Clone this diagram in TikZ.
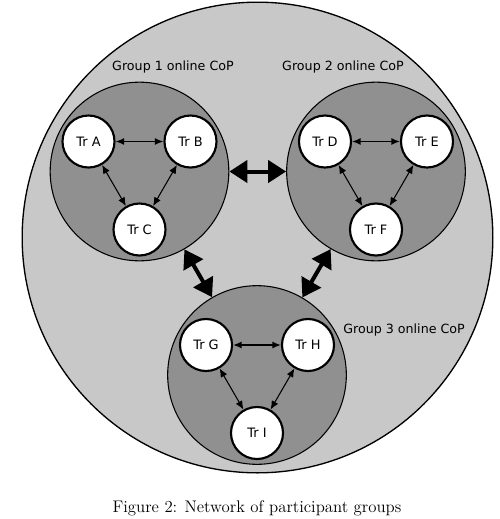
\documentclass[tikz,border=0pt]{standalone}
\usepackage{fontspec}
\usepackage{tikz}
\usetikzlibrary{positioning,arrows.meta}
\newfontfamily\grpfont{DejaVu Sans}
\definecolor{outergray}{RGB}{200,200,200}
\definecolor{groupgray}{RGB}{144,144,144}

\begin{document}
\begin{tikzpicture}[x=0.75pt, y=-0.75pt, on grid,
  network/.style = {draw, circle, fill=outergray, line width=1pt, minimum size=353pt},
  group/.style = {draw, circle, fill=groupgray, line width=0.8pt, minimum size=134pt},
  main/.style = {draw, circle, fill=white, line width=1.6pt, minimum size=39pt, inner sep=0pt, font=\grpfont\fontsize{9.7}{11}\selectfont},
  link/.style = {{Latex[length=6.5pt,width=5.5pt]}-{Latex[length=6.5pt,width=5.5pt]}, line width=0.8pt},
  bond/.style = {{Triangle[length=13.5pt,width=16.5pt]}-{Triangle[length=13.5pt,width=16.5pt]}, line width=3pt},
  glabel/.style = {inner sep=0pt, font=\grpfont\fontsize{9.5}{11}\selectfont}]
    \useasboundingbox (0,0) rectangle (500,519);
    \node[network] (net) at (257.5,237.5) {};
    \node[group] (g1) at (139.5,171.5) {};
    \node[group] (g2) at (376,171.5) {};
    \node[group] (g3) at (257,375) {};

    \node[main] (trC) [below=43.5pt of g1] {Tr C};
    \node[main] (trA) [above left=66pt and 38.25pt of trC] {Tr A};
    \node[main] (trB) [above right=66pt and 38.25pt of trC] {Tr B};
    \node[main] (trF) [below=43.5pt of g2] {Tr F};
    \node[main] (trD) [above left=66pt and 38.25pt of trF] {Tr D};
    \node[main] (trE) [above right=66pt and 38.25pt of trF] {Tr E};
    \node[main] (trI) [below=43.5pt of g3] {Tr I};
    \node[main] (trG) [above left=66pt and 38.25pt of trI] {Tr G};
    \node[main] (trH) [above right=66pt and 38.25pt of trI] {Tr H};

    \node[glabel] (l1) at (173,67) {Group 1 online CoP};
    \node[glabel] (l2) at (343,67) {Group 2 online CoP};
    \node[glabel, anchor=west] (l3) at (343,330) {Group 3 online CoP};
    \node[font=\fontsize{12.6}{15}\selectfont] (cap) at (257,508) {Figure 2: Network of participant groups};

    \draw[bond] (g1) -- (g2);
    \draw[bond] (g1) -- (g3);
    \draw[bond] (g2) -- (g3);
    \foreach \a/\b in {trA/trB, trD/trE, trG/trH}
        \draw[link, line width=1.2pt] (\a) -- (\b);
    \foreach \a/\b in {trA/trC, trB/trC, trD/trF, trE/trF, trG/trI, trH/trI}
        \draw[link] (\a) -- (\b);
\end{tikzpicture}
\end{document}
